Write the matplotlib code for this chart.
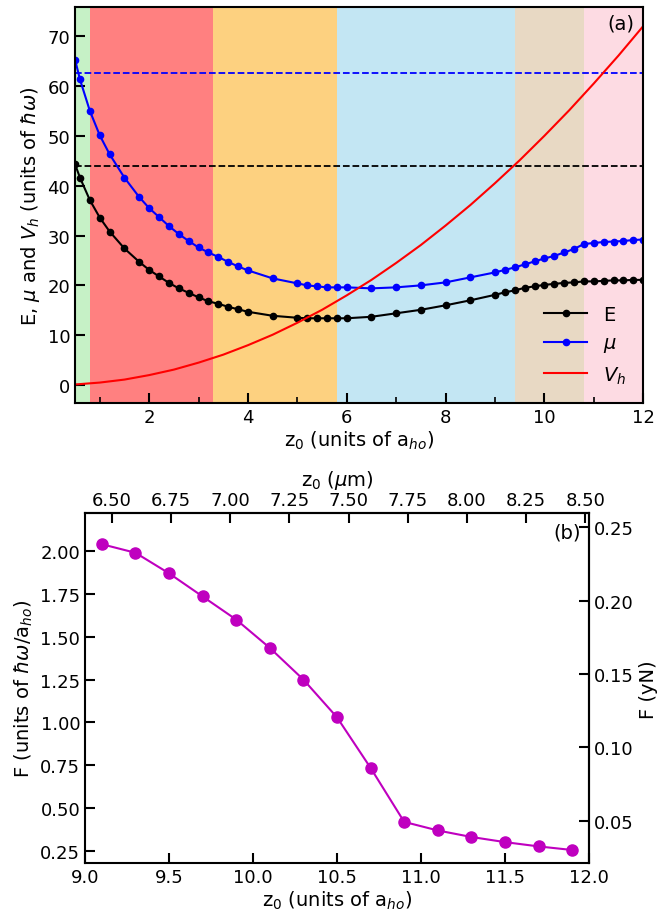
import numpy as np
import matplotlib
matplotlib.use('Agg')
import matplotlib.pyplot as plt

# ---- dados (a): energia, potencial quimico e potencial harmonico
z0 = [0.5, 0.6, 0.8, 1.0, 1.2, 1.5, 1.8, 2.0, 2.2, 2.4, 2.6, 2.8, 3.0, 3.2, 3.4, 3.6, 3.8, 4.0,
      4.5, 5.0, 5.2, 5.4, 5.6, 5.8, 6.0, 6.5, 7.0, 7.5, 8.0, 8.5, 9.0, 9.2, 9.4, 9.6, 9.8, 10.0,
      10.2, 10.4, 10.6, 10.8, 11.0, 11.2, 11.4, 11.6, 11.8, 12.0]
energia = [44.3, 41.6, 37.1, 33.6, 30.8, 27.4, 24.7, 23.1, 21.8, 20.5, 19.4, 18.5, 17.6, 16.8, 16.3,
           15.7, 15.2, 14.7, 13.9, 13.5, 13.4, 13.4, 13.4, 13.4, 13.4, 13.7, 14.4, 15.1, 16.0, 17.0,
           18.1, 18.6, 19.0, 19.5, 19.8, 20.1, 20.3, 20.5, 20.6, 20.8, 20.8, 20.9, 21.0, 21.0, 21.1, 21.1]
mu = [65.3, 61.3, 55.0, 50.1, 46.3, 41.6, 37.7, 35.5, 33.7, 31.9, 30.3, 28.9, 27.6, 26.6, 25.7,
      24.7, 23.8, 23.0, 21.4, 20.4, 20.0, 19.8, 19.6, 19.6, 19.6, 19.4, 19.6, 20.0, 20.6, 21.6,
      22.6, 23.1, 23.6, 24.2, 24.8, 25.4, 25.9, 26.6, 27.3, 28.3, 28.5, 28.7, 28.8, 28.9, 29.1, 29.2]

z_vh = [0.5, 1.0, 1.5, 2.0, 2.5, 3.0, 3.5, 4.0, 4.5, 5.0, 5.5, 6.0, 6.5, 7.0, 7.5, 8.0, 8.5, 9.0,
        9.5, 10.0, 10.5, 11.0, 11.5, 12.0]
vh = [0.12, 0.5, 1.1, 2.0, 3.1, 4.5, 6.1, 8.0, 10.1, 12.5, 15.1, 18.0, 21.1, 24.5, 28.1, 32.0,
      36.1, 40.5, 45.1, 50.0, 55.1, 60.5, 66.1, 72.0]

e_max = 44.0
mu_max = 62.7

# regioes coloridas (limites em z0)
regioes = [0.5, 0.8, 3.3, 5.8, 9.4, 10.8, 12.0]
cores = ['#c6f1c6', '#ff8080', '#fdd180', '#c3e6f3', '#e8d9c4', '#fddbe3']

# ---- dados (b): forca
z0_f = [9.1, 9.3, 9.5, 9.7, 9.9, 10.1, 10.3, 10.5, 10.7, 10.9, 11.1, 11.3, 11.5, 11.7, 11.9]
forca = [2.04, 1.99, 1.87, 1.735, 1.60, 1.435, 1.25, 1.03, 0.735, 0.42, 0.37, 0.332, 0.302, 0.277, 0.256]

a_ho = 0.7096      # um
f_unit = 0.1169    # yN por hbar*omega/a_ho

plt.rcParams['font.family'] = 'DejaVu Sans'
plt.rcParams['mathtext.fontset'] = 'dejavusans'

fig = plt.figure(figsize=(6.7, 9.12), dpi=100)
ax1 = fig.add_axes([0.112, 0.557, 0.848, 0.434])
ax2 = fig.add_axes([0.127, 0.0526, 0.752, 0.3834])

# painel (a)
for i in range(len(cores)):
    ax1.axvspan(regioes[i], regioes[i + 1], color=cores[i], lw=0)
ax1.axhline(mu_max, color='b', ls='--', lw=1.3)
ax1.axhline(e_max, color='k', ls='--', lw=1.3)
ax1.plot(z0, energia, 'k-o', ms=4.5, lw=1.5, label='E')
ax1.plot(z0, mu, 'b-o', ms=4.5, lw=1.5, label=r'$\mu$')
ax1.plot(z_vh, vh, 'r-', lw=1.5, label=r'$V_h$')
ax1.set_xlim(0.5, 12)
ax1.set_ylim(-3.6, 75.8)
ax1.set_xticks([2, 4, 6, 8, 10, 12])
ax1.set_xticks([1, 3, 5, 7, 9, 11], minor=True)
ax1.set_yticks([0, 10, 20, 30, 40, 50, 60, 70])
ax1.set_xlabel(r'z$_0$ (units of a$_{ho}$)', fontsize=14, labelpad=2)
ax1.set_ylabel(r'E, $\mu$ and $V_h$ (units of $\hbar\omega$)', fontsize=14)
ax1.text(0.985, 0.985, '(a)', transform=ax1.transAxes, ha='right', va='top', fontsize=14)
ax1.legend(loc='lower right', frameon=False, fontsize=14, handlelength=2.2,
           bbox_to_anchor=(1.0, 0.0))

# painel (b)
ax2.plot(z0_f, forca, '-o', color='#bf00bf', ms=8, lw=1.5)
ax2.set_xlim(9.0, 12.0)
ax2.set_ylim(0.18, 2.22)
ax2.set_yticks([0.25, 0.5, 0.75, 1.0, 1.25, 1.5, 1.75, 2.0])
ax2.set_xlabel(r'z$_0$ (units of a$_{ho}$)', fontsize=14, labelpad=2)
ax2.set_ylabel(r'F (units of $\hbar\omega$/a$_{ho}$)', fontsize=14)
ax2.text(0.985, 0.975, '(b)', transform=ax2.transAxes, ha='right', va='top', fontsize=14)

topo = ax2.secondary_xaxis('top', functions=(lambda z: z * a_ho, lambda u: u / a_ho))
topo.set_xticks([6.5, 6.75, 7.0, 7.25, 7.5, 7.75, 8.0, 8.25, 8.5])
topo.set_xlabel(r'z$_0$ ($\mu$m)', fontsize=14, labelpad=4)
direita = ax2.secondary_yaxis('right', functions=(lambda f: f * f_unit, lambda y: y / f_unit))
direita.set_yticks([0.05, 0.10, 0.15, 0.20, 0.25])
direita.set_ylabel('F (yN)', fontsize=14)

for ax in [ax1, ax2, topo, direita]:
    ax.tick_params(which='major', direction='in', length=7, width=1.5, labelsize=13)
    ax.tick_params(which='minor', direction='in', length=4, width=1.2)
for ax in [ax1, ax2]:
    for s in ax.spines.values():
        s.set_linewidth(1.5)
topo.spines['top'].set_linewidth(1.5)
direita.spines['right'].set_linewidth(1.5)

plt.savefig('out.png', dpi=100)
